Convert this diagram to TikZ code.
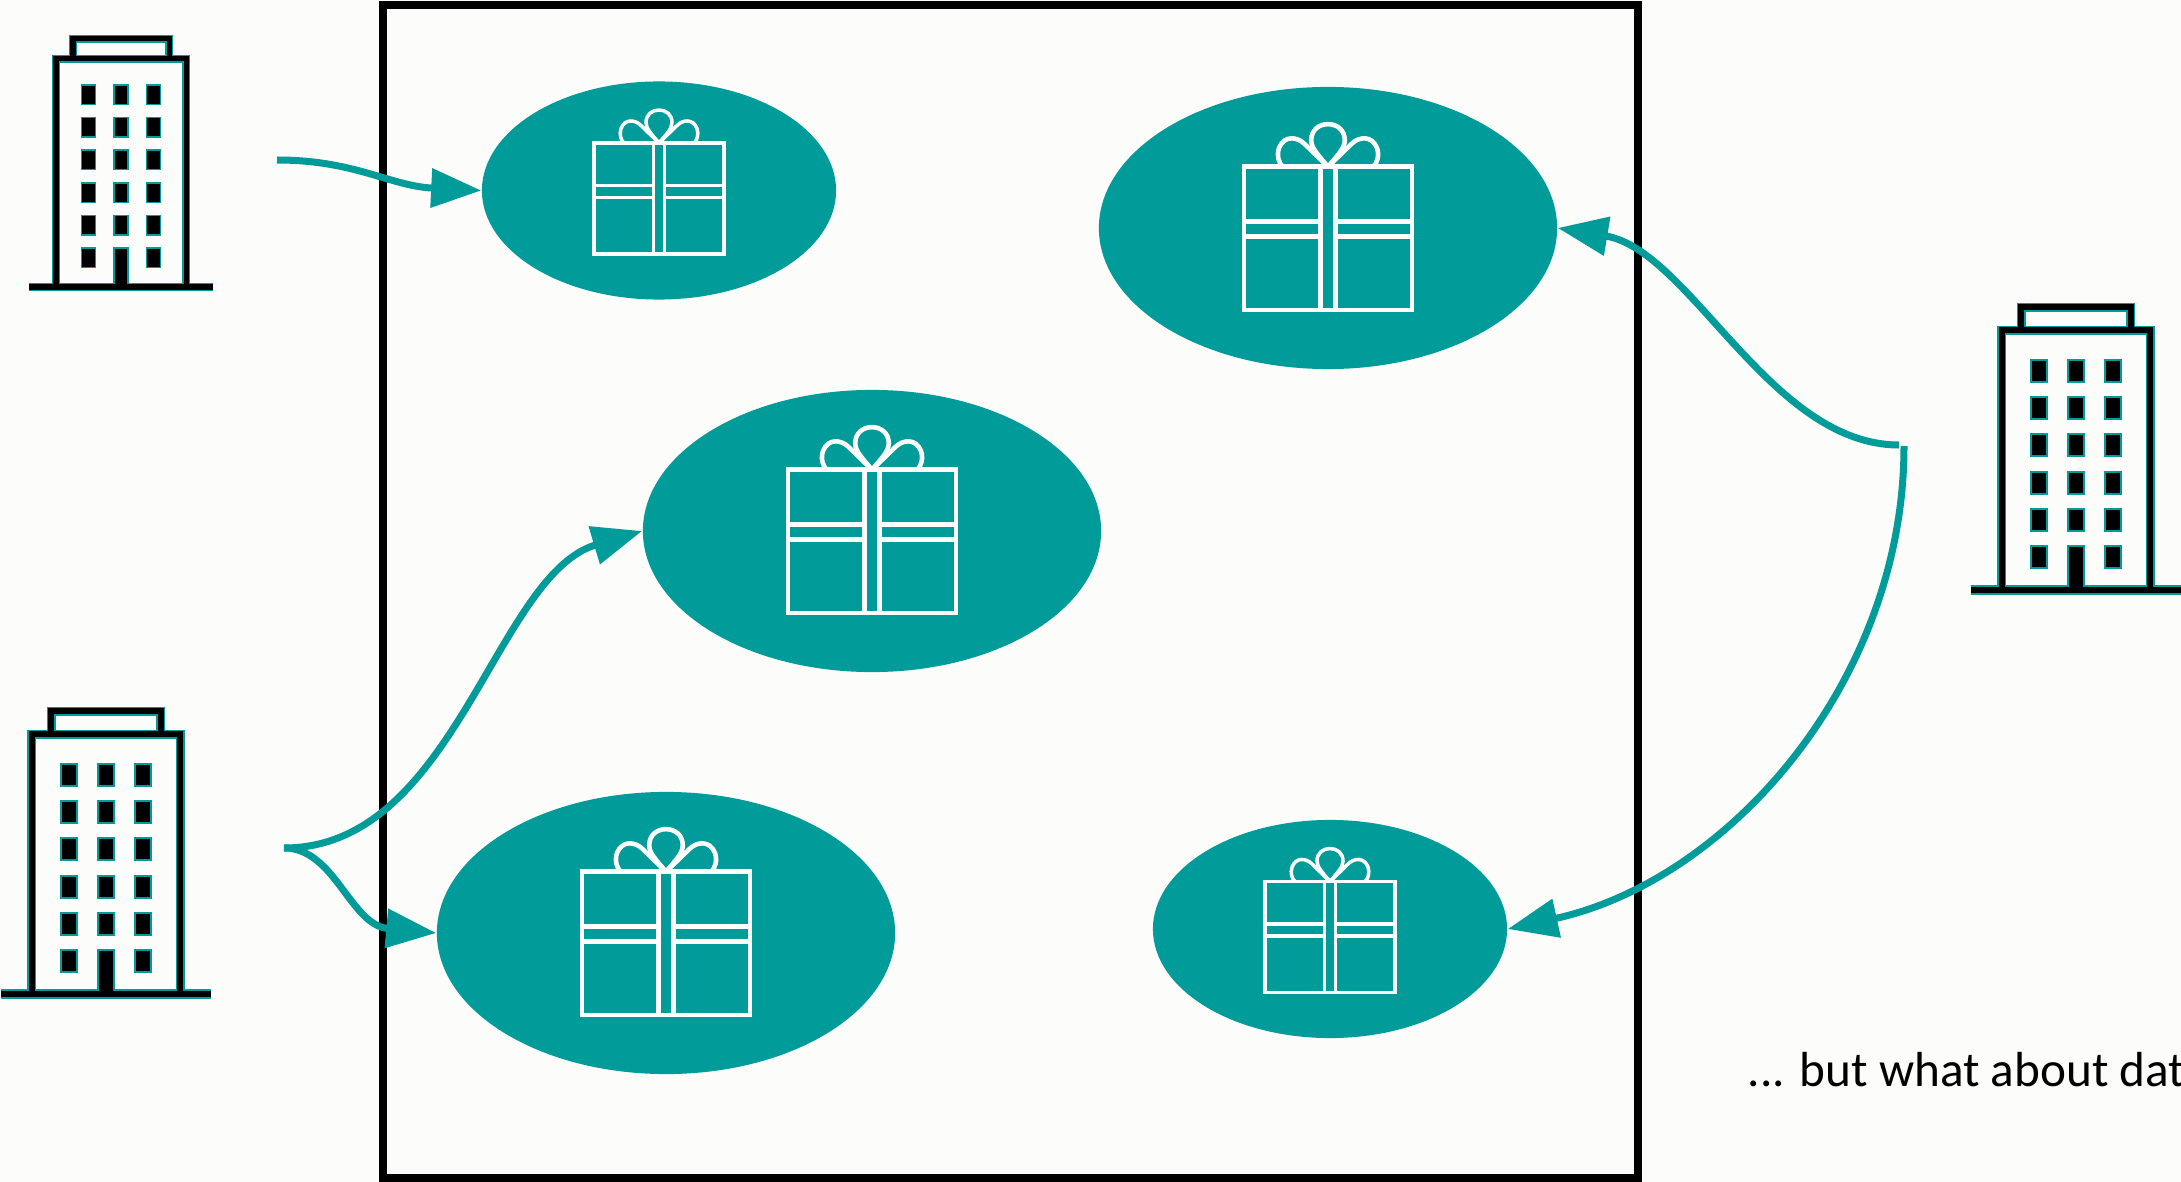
\documentclass[tikz,border=0pt]{standalone}
\usepackage{fontspec}
\setmainfont{Carlito}
\usetikzlibrary{arrows.meta,positioning,shapes.geometric}
\definecolor{tealc}{HTML}{019C9A}
\definecolor{pagebg}{HTML}{FCFCFA}
\tikzset{
  zone/.style={ellipse,fill=tealc,inner sep=0pt},
  flow/.style={draw=tealc,line width=0.07cm,-{Triangle[length=0.5cm,width=0.38cm]}},
  pics/gift/.style={code={
    \draw[white] (-65,-47.5) rectangle (65,63.5);
    \draw[white] (-5.7,-47.5) -- (-5.7,63.5) (5.7,-47.5) -- (5.7,63.5);
    \foreach \s in {-1,1}{
      \draw[white] (\s*5.7,-5.2) -- (\s*65,-5.2) (\s*5.7,6.8) -- (\s*65,6.8);
      \draw[white] (0,-47.5) .. controls (\s*8,-57) and (\s*13,-62) .. (\s*13,-68)
        .. controls (\s*13,-76) and (\s*7,-80.5) .. (0,-80.5);
      \draw[white] (0,-47.5) -- (\s*18,-65) .. controls (\s*24,-71) and (\s*34,-72) .. (\s*38,-62)
        .. controls (\s*40,-56) and (\s*38,-50) .. (\s*35,-47.5);
    }
  }},
  pics/tower/.style={code={
    \foreach \col/\lw/\wl in {tealc/0.08/0.04,black/0.05/0}{
      \draw[\col,line width=#1*\lw cm] (-92,0) -- (92,0);
      \draw[\col,line width=#1*\lw cm] (-65,0) -- (-65,-228) -- (65,-228) -- (65,0);
      \draw[\col,line width=#1*\lw cm] (-48,-228) -- (-48,-248) -- (48,-248) -- (48,-228);
      \foreach \x in {-32.5,0,32.5}{
        \foreach \y in {-192,-159.5,-127,-94,-61.5,-29}{
          \draw[\col,fill=\col,line width=#1*\wl cm] (\x-5.8,\y-8.5) rectangle (\x+5.8,\y+8.5);
        }
      }
      \draw[\col,fill=\col,line width=#1*\wl cm] (-5.8,-37.5) rectangle (5.8,0);
    }
  }},
}
\begin{document}
\begin{tikzpicture}[x=0.01cm,y=-0.01cm]
  \fill[pagebg] (0,0) rectangle (2181,1182);
  \useasboundingbox (0,0) rectangle (2181,1182);
  \draw[black,line width=0.08cm] (383.3,5) rectangle (1638.3,1178);
  % gift zones
  \foreach \name/\cx/\cy/\ew/\eh/\sc/\glw in {
    small1/659/190.5/3.54/2.18/1/1pt,
    big1/1328/228/4.58/2.82/1.29/1.3pt,
    big2/872/531/4.58/2.82/1.29/1.3pt,
    big3/666/933/4.58/2.82/1.29/1.3pt,
    small2/1330/929/3.54/2.18/1/1pt}{
    \node[zone,minimum width=\ew cm,minimum height=\eh cm] (\name) at (\cx,\cy) {};
    \pic[scale=\sc,line width=\glw] at (\cx,\cy) {gift};
  }
  % buildings
  \pic at (121,287) {tower=1};
  \pic[scale=1.14] at (106,994) {tower=1.14};
  \pic[scale=1.14] at (2076,590) {tower=1.14};
  \coordinate (outa) at (277,160);
  \coordinate (outb) at (284,848);
  \coordinate (outc) at (1899,445);
  \coordinate (outd) at (1904,446);
  \draw[flow] (outa) .. controls (355,160) and (390,186) .. (small1.west);
  \draw[flow] (outb) .. controls (455,848) and (495,575) .. (big2.west);
  \draw[flow] (outb) .. controls (335,848) and (350,925) .. (big3.west);
  \draw[flow] (outc) .. controls (1770,445) and (1690,250) .. (big1.east);
  \draw[flow] (outd) .. controls (1904,680) and (1730,880) .. (small2.east);
  \node[anchor=base west,inner sep=0pt,font=\fontsize{14pt}{17pt}\selectfont] (question) at (1747,1086) {... but what about data};
\end{tikzpicture}
\end{document}
